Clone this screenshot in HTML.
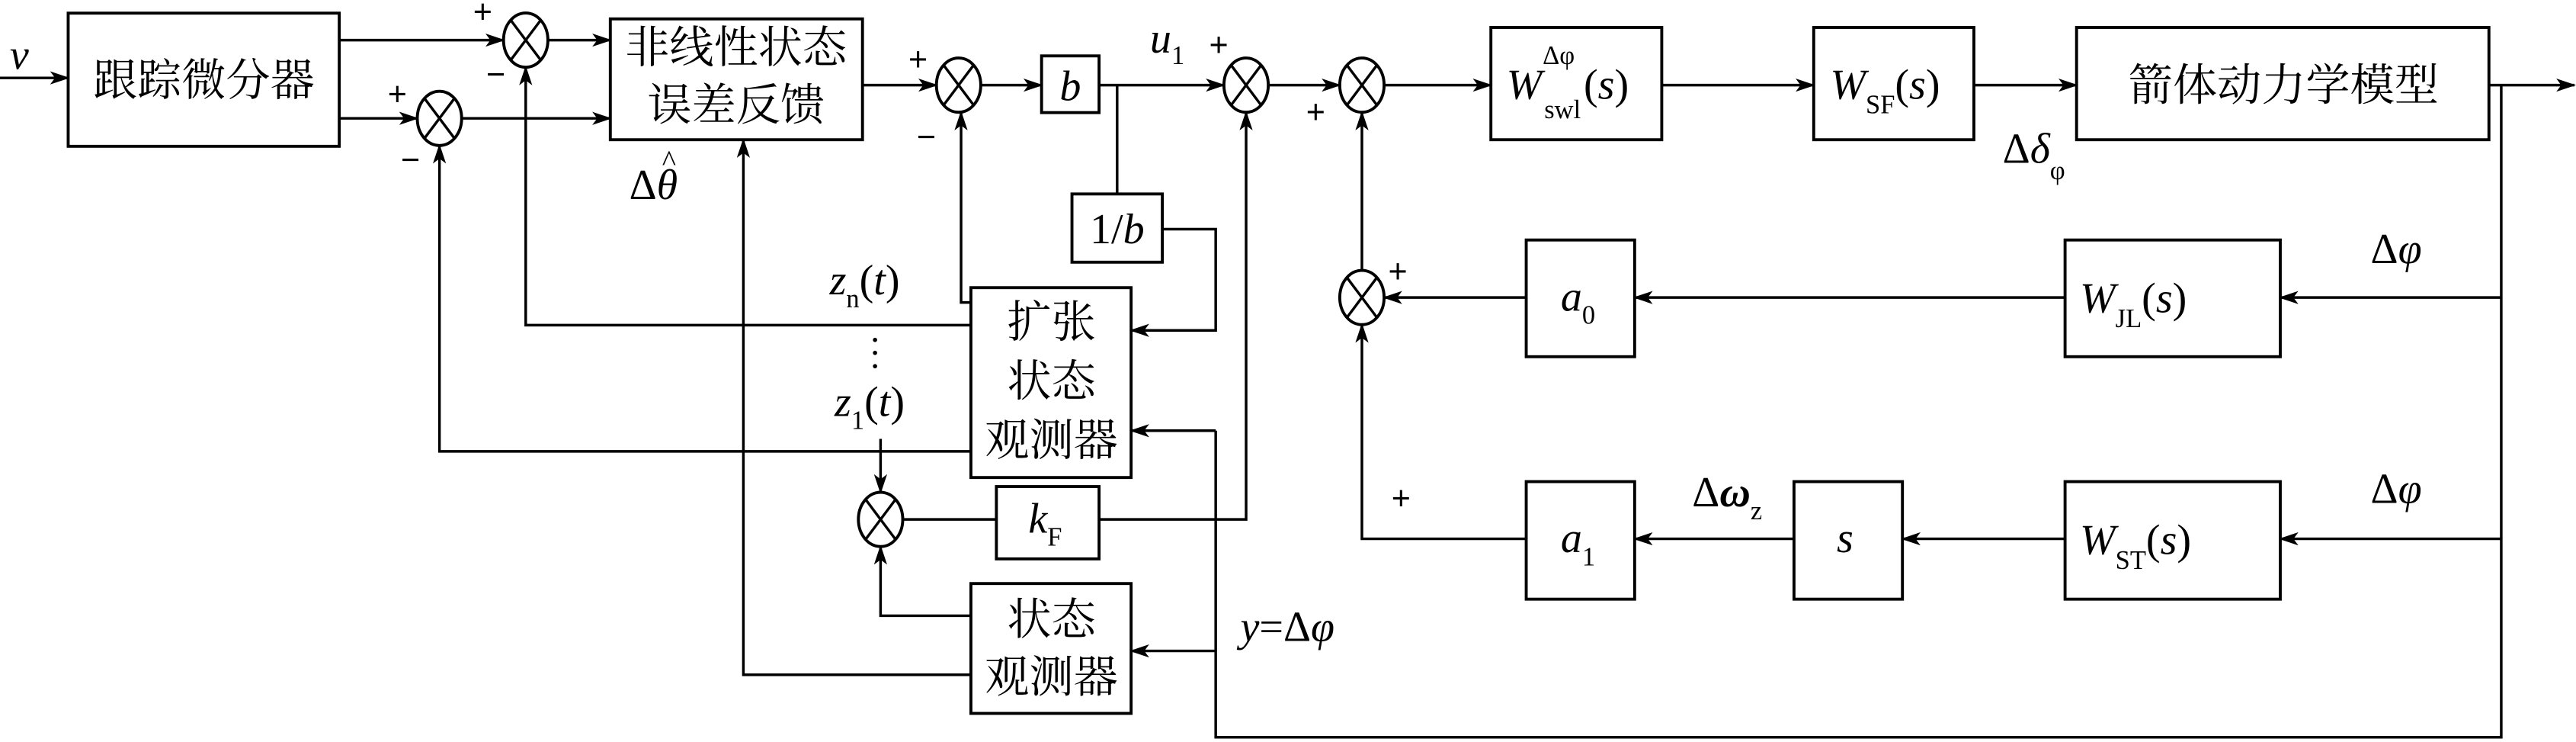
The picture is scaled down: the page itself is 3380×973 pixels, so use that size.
<!DOCTYPE html>
<html><head><meta charset="utf-8"><style>
html,body{margin:0;padding:0;background:#fff;}
svg{display:block;}
text{font-family:"Liberation Serif","Noto Serif CJK SC","Noto Sans CJK SC",serif;fill:#000;}
.cn{font-size:27px;}
.it{font-style:italic;font-size:26px;}
.sub{font-style:normal;font-size:16px;}
.pm{font-family:"Liberation Sans",sans-serif;font-size:20px;}
</style></head><body>
<svg width="3380" height="973" viewBox="0 0 1568 451.4" preserveAspectRatio="none" xmlns="http://www.w3.org/2000/svg">
<defs>
<marker id="a" markerWidth="12" markerHeight="8" refX="11" refY="4" orient="auto" markerUnits="userSpaceOnUse">
<path d="M0,0 L12,4 L0,8 L3,4 Z" fill="#000"/></marker>
<g id="sum"><ellipse cx="0" cy="0" rx="13.5" ry="16.5" fill="#fff" stroke="#000" stroke-width="1.8"/>
<line x1="-9" y1="-12" x2="9" y2="12" stroke="#000" stroke-width="1.6"/>
<line x1="9" y1="-12" x2="-9" y2="12" stroke="#000" stroke-width="1.6"/></g>
</defs>
<g fill="none" stroke="#000" stroke-width="1.8">
<rect x="41.5" y="8" width="165" height="81"/>
<rect x="371.5" y="11.5" width="153.5" height="73.5"/>
<rect x="634" y="34" width="35" height="34.5"/>
<rect x="652.5" y="118" width="55" height="41.5"/>
<rect x="591" y="175" width="97.5" height="115.5"/>
<rect x="606.5" y="296" width="62.5" height="44"/>
<rect x="591" y="355" width="97.5" height="79"/>
<rect x="907.5" y="16.7" width="104" height="68.3"/>
<rect x="1104" y="16.7" width="97.5" height="68.3"/>
<rect x="1264" y="16.7" width="251" height="68.3"/>
<rect x="929" y="146" width="66" height="71"/>
<rect x="1257" y="146" width="131" height="71"/>
<rect x="929" y="293" width="66" height="71.5"/>
<rect x="1092" y="293" width="66" height="71.5"/>
<rect x="1257" y="293" width="131" height="71.5"/>
</g>
<g fill="none" stroke="#000" stroke-width="1.6">
<line x1="0" y1="47.4" x2="41.5" y2="47.4" marker-end="url(#a)"/>
<line x1="206.5" y1="24.4" x2="306.5" y2="24.4" marker-end="url(#a)"/>
<line x1="206.5" y1="72" x2="254" y2="72" marker-end="url(#a)"/>
<line x1="333.5" y1="24.4" x2="371.5" y2="24.4" marker-end="url(#a)"/>
<line x1="281" y1="72" x2="371.5" y2="72" marker-end="url(#a)"/>
<line x1="525" y1="51.8" x2="570" y2="51.8" marker-end="url(#a)"/>
<line x1="597" y1="51.8" x2="634" y2="51.8" marker-end="url(#a)"/>
<line x1="669" y1="51.8" x2="745" y2="51.8" marker-end="url(#a)"/>
<line x1="772" y1="51.8" x2="815.5" y2="51.8" marker-end="url(#a)"/>
<line x1="842.5" y1="51.8" x2="907.5" y2="51.8" marker-end="url(#a)"/>
<line x1="1011.5" y1="51.8" x2="1104" y2="51.8" marker-end="url(#a)"/>
<line x1="1201.5" y1="51.8" x2="1264" y2="51.8" marker-end="url(#a)"/>
<line x1="1515" y1="51.8" x2="1567" y2="51.8" marker-end="url(#a)"/>
<line x1="680" y1="51.8" x2="680" y2="118"/>
<polyline points="707.5,139.4 740,139.4 740,201 688.5,201" marker-end="url(#a)"/>
<polyline points="591,184 585,184 585,68.3" marker-end="url(#a)"/>
<polyline points="591,197.8 320,197.8 320,40.9" marker-end="url(#a)"/>
<polyline points="591,274.6 267.5,274.6 267.5,88.5" marker-end="url(#a)"/>
<line x1="536" y1="267" x2="536" y2="299.5" marker-end="url(#a)"/>
<polyline points="591,374.6 536,374.6 536,332.5" marker-end="url(#a)"/>
<line x1="549.5" y1="316" x2="606.5" y2="316"/>
<polyline points="669,316 758.5,316 758.5,68.3" marker-end="url(#a)"/>
<polyline points="591,410.5 452.5,410.5 452.5,85" marker-end="url(#a)"/>
<line x1="740" y1="262" x2="688.5" y2="262" marker-end="url(#a)"/>
<line x1="740" y1="396" x2="688.5" y2="396" marker-end="url(#a)"/>
<polyline points="740,262 740,448.5 1522.5,448.5 1522.5,51.8"/>
<line x1="1522.5" y1="181" x2="1388" y2="181" marker-end="url(#a)"/>
<line x1="1257" y1="181" x2="995" y2="181" marker-end="url(#a)"/>
<line x1="929" y1="181" x2="842.5" y2="181" marker-end="url(#a)"/>
<line x1="829" y1="164.5" x2="829" y2="68.3" marker-end="url(#a)"/>
<line x1="1522.5" y1="327.8" x2="1388" y2="327.8" marker-end="url(#a)"/>
<line x1="1257" y1="327.8" x2="1158" y2="327.8" marker-end="url(#a)"/>
<line x1="1092" y1="327.8" x2="995" y2="327.8" marker-end="url(#a)"/>
<polyline points="929,327.8 829,327.8 829,197.5" marker-end="url(#a)"/>
</g>
<use href="#sum" x="320" y="24.4"/>
<use href="#sum" x="267.5" y="72"/>
<use href="#sum" x="583.5" y="51.8"/>
<use href="#sum" x="758.5" y="51.8"/>
<use href="#sum" x="829" y="51.8"/>
<use href="#sum" x="829" y="181"/>
<use href="#sum" x="536" y="316"/>
<text class="it" x="6" y="42">v</text>
<text class="cn" x="124" y="58" text-anchor="middle">跟踪微分器</text>
<text class="cn" x="448" y="38" text-anchor="middle">非线性状态</text>
<text class="cn" x="448" y="73" text-anchor="middle">误差反馈</text>
<text class="cn" x="640" y="205" text-anchor="middle">扩张</text>
<text class="cn" x="640" y="241" text-anchor="middle">状态</text>
<text class="cn" x="640" y="277" text-anchor="middle">观测器</text>
<text class="cn" x="640" y="386" text-anchor="middle">状态</text>
<text class="cn" x="640" y="421" text-anchor="middle">观测器</text>
<text class="cn" x="1390" y="61" text-anchor="middle">箭体动力学模型</text>
<text class="it" x="651.5" y="61" text-anchor="middle">b</text>
<text class="it" x="680" y="148" text-anchor="middle"><tspan font-style="normal">1/</tspan>b</text>
<text class="it" x="626" y="324">k<tspan class="sub" dy="8">F</tspan></text>
<text class="it" x="700" y="32">u<tspan class="sub" dy="7">1</tspan></text>
<text class="it" x="383" y="121"><tspan font-style="normal">Δ</tspan>θ</text>
<text x="403" y="104" font-size="18">^</text>
<text class="it" x="505" y="179">z<tspan class="sub" dy="8">n</tspan><tspan font-style="normal" dy="-8">(</tspan>t<tspan font-style="normal">)</tspan></text>
<text class="it" x="508" y="253">z<tspan class="sub" dy="8">1</tspan><tspan font-style="normal" dy="-8">(</tspan>t<tspan font-style="normal">)</tspan></text>
<text x="529" y="214" font-size="22">·</text>
<text x="529" y="222" font-size="22">·</text>
<text x="529" y="230" font-size="22">·</text>
<text class="it" x="755" y="390">y<tspan font-style="normal">=Δ</tspan>φ</text>
<text class="it" x="917" y="60">W</text>
<text class="sub" x="939" y="39">Δφ</text>
<text class="sub" x="940" y="72">swl</text>
<text class="it" x="964" y="60"><tspan font-style="normal">(</tspan>s<tspan font-style="normal">)</tspan></text>
<text class="it" x="1114" y="60">W<tspan class="sub" dy="9">SF</tspan><tspan font-style="normal" dy="-9">(</tspan>s<tspan font-style="normal">)</tspan></text>
<text class="it" x="1219" y="99"><tspan font-style="normal">Δ</tspan>δ<tspan class="sub" font-style="italic" dy="10">φ</tspan></text>
<text class="it" x="1266" y="190">W<tspan class="sub" dy="9">JL</tspan><tspan font-style="normal" dy="-9">(</tspan>s<tspan font-style="normal">)</tspan></text>
<text class="it" x="1266" y="337">W<tspan class="sub" dy="9">ST</tspan><tspan font-style="normal" dy="-9">(</tspan>s<tspan font-style="normal">)</tspan></text>
<text class="it" x="950" y="189">a<tspan class="sub" dy="8">0</tspan></text>
<text class="it" x="950" y="336">a<tspan class="sub" dy="8">1</tspan></text>
<text class="it" x="1118" y="336">s</text>
<text class="it" x="1030" y="308"><tspan font-style="normal">Δ</tspan><tspan font-weight="bold">ω</tspan><tspan class="sub" font-style="italic" dy="8">z</tspan></text>
<text class="it" x="1443" y="160"><tspan font-style="normal">Δ</tspan>φ</text>
<text class="it" x="1443" y="306"><tspan font-style="normal">Δ</tspan>φ</text>
<text class="pm" x="288" y="14">+</text>
<text class="pm" x="296" y="52">−</text>
<text class="pm" x="236" y="64">+</text>
<text class="pm" x="244" y="104">−</text>
<text class="pm" x="553" y="43">+</text>
<text class="pm" x="558" y="90">−</text>
<text class="pm" x="736" y="34">+</text>
<text class="pm" x="795" y="75">+</text>
<text class="pm" x="845" y="172">+</text>
<text class="pm" x="847" y="310">+</text>
</svg>
</body></html>
